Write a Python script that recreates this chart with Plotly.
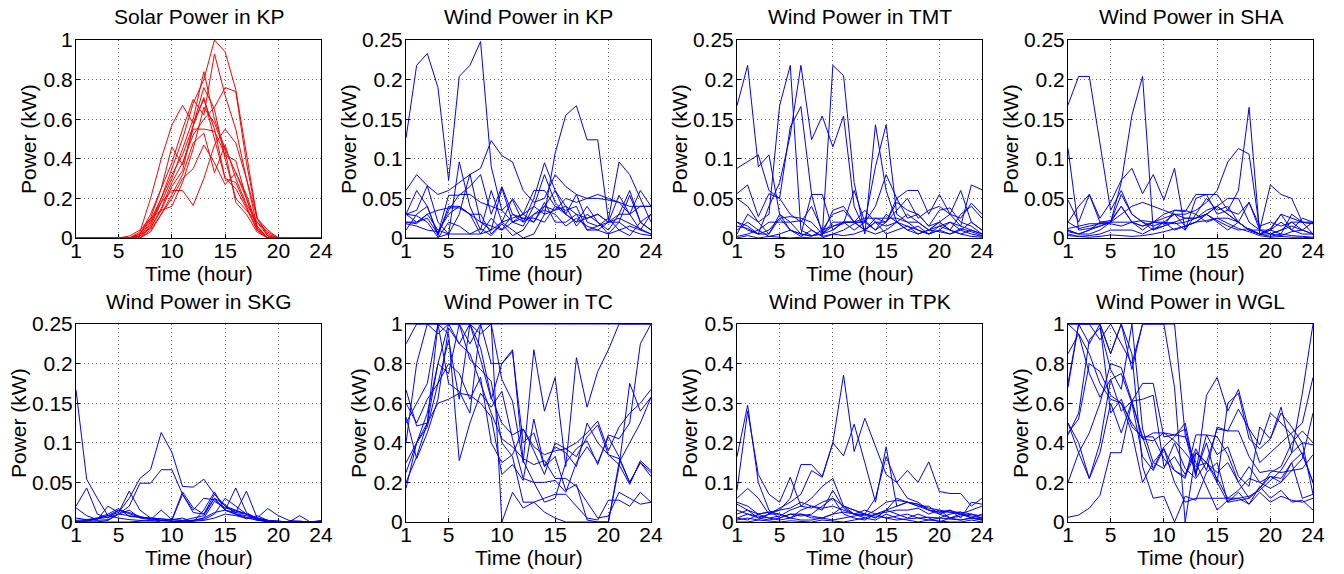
import plotly.graph_objects as go
from plotly.subplots import make_subplots

hours = list(range(1, 25))
x_tick_vals = [1, 5, 10, 15, 20, 24]
x_tick_text = ["1", "5", "10", "15", "20", "24"]

titles = ["Solar Power in KP", "Wind Power in KP", "Wind Power in TMT", "Wind Power in SHA",
          "Wind Power in SKG", "Wind Power in TC", "Wind Power in TPK", "Wind Power in WGL"]
x_title = "Time (hour)"
y_title = "Power (kW)"

ticks_unit = [0, 0.2, 0.4, 0.6, 0.8, 1]
ticks_unit_text = ["0", "0.2", "0.4", "0.6", "0.8", "1"]
ticks_small = [0, 0.05, 0.1, 0.15, 0.2, 0.25]
ticks_small_text = ["0", "0.05", "0.1", "0.15", "0.2", "0.25"]
ticks_half = [0, 0.1, 0.2, 0.3, 0.4, 0.5]
ticks_half_text = ["0", "0.1", "0.2", "0.3", "0.4", "0.5"]

solar_kp = [
    [0,0,0,0,0,0,0.01,0.07,0.2,0.35,0.5,0.68,0.8,1.0,0.94,0.75,0.42,0.1,0.01,0,0,0,0,0],
    [0,0,0,0,0,0,0.02,0.1,0.25,0.38,0.55,0.7,0.62,0.93,0.72,0.55,0.3,0.06,0,0,0,0,0,0],
    [0,0,0,0,0,0,0,0.06,0.18,0.3,0.45,0.6,0.84,0.6,0.45,0.33,0.2,0.05,0,0,0,0,0,0],
    [0,0,0,0,0,0,0.01,0.05,0.15,0.28,0.38,0.52,0.6,0.66,0.76,0.74,0.38,0.1,0.02,0,0,0,0,0],
    [0,0,0,0,0,0,0.03,0.2,0.4,0.57,0.67,0.58,0.7,0.55,0.3,0.28,0.16,0.04,0,0,0,0,0,0],
    [0,0,0,0,0,0,0.02,0.12,0.25,0.46,0.37,0.55,0.55,0.54,0.42,0.39,0.2,0.05,0,0,0,0,0,0],
    [0,0,0,0,0,0,0.01,0.08,0.18,0.24,0.24,0.165,0.3,0.47,0.55,0.48,0.3,0.1,0.04,0,0,0,0,0],
    [0,0,0,0,0,0,0,0.04,0.12,0.22,0.32,0.48,0.53,0.33,0.47,0.3,0.17,0.08,0.01,0,0,0,0,0],
    [0,0,0,0,0,0,0.02,0.09,0.2,0.32,0.42,0.56,0.71,0.5,0.3,0.25,0.15,0.04,0,0,0,0,0,0],
    [0,0,0,0,0,0,0,0.03,0.12,0.2,0.3,0.35,0.47,0.38,0.27,0.33,0.22,0.06,0,0,0,0,0,0],
    [0,0,0,0,0,0.01,0.04,0.1,0.14,0.16,0.28,0.45,0.66,0.58,0.44,0.18,0.12,0.03,0,0,0,0,0,0],
    [0,0,0,0,0,0,0.01,0.05,0.14,0.26,0.34,0.57,0.76,0.65,0.4,0.2,0.14,0.08,0.03,0,0,0,0,0],
]

wind_kp = [
    [0.126,0.218,0.233,0.19,0.073,0.204,0.218,0.248,0.09,0.035,0.02,0.03,0.04,0.03,0.107,0.155,0.167,0.124,0.124,0.023,0.096,0.08,0.05,0.02],
    [0.06,0.08,0.066,0.055,0.06,0.07,0.08,0.088,0.123,0.104,0.096,0.06,0.045,0.05,0.08,0.065,0.055,0.05,0.055,0.05,0.045,0.04,0.04,0.04],
    [0.03,0.06,0.04,0.005,0.054,0.054,0.065,0.08,0.03,0.065,0.03,0.02,0.05,0.095,0.06,0.03,0.02,0.025,0.03,0.02,0.054,0.03,0.06,0.04],
    [0.03,0.035,0.066,0.02,0.005,0.096,0.04,0.01,0.06,0.02,0.05,0.03,0.02,0.04,0.06,0.04,0.03,0.025,0.03,0.02,0.02,0.054,0.02,0.01],
    [0.02,0.02,0.03,0.01,0.005,0.03,0.081,0.02,0.01,0.063,0.02,0.015,0.04,0.08,0.045,0.03,0.02,0.04,0.02,0.01,0.03,0.06,0.02,0.03],
    [0.01,0.03,0.04,0.003,0.04,0.04,0.03,0.03,0.005,0.02,0.025,0.03,0.06,0.06,0.04,0.03,0.055,0.02,0.015,0.02,0.03,0.03,0.01,0.03],
    [0.03,0.02,0.025,0.005,0.035,0.055,0.055,0.045,0.04,0.035,0.048,0.02,0.03,0.04,0.035,0.05,0.045,0.05,0.05,0.048,0.045,0.03,0.04,0.04],
    [0.02,0.018,0.03,0.035,0.038,0.038,0.03,0.02,0.015,0.01,0.02,0.025,0.025,0.02,0.04,0.035,0.04,0.01,0.01,0.02,0.025,0.018,0.012,0.005],
    [0.0,0.0,0.0,0.0,0.02,0.015,0.005,0.005,0.01,0.02,0.01,0.0,0.005,0.03,0.035,0.04,0.015,0.03,0.02,0.005,0.02,0.01,0.005,0.003],
    [0.018,0.015,0.01,0.008,0.03,0.04,0.03,0.005,0.025,0.01,0.03,0.025,0.02,0.045,0.02,0.02,0.03,0.01,0.015,0.025,0.01,0.015,0.01,0.005],
    [0.03,0.028,0.02,0.001,0.005,0.005,0.005,0.012,0.003,0.018,0.003,0.01,0.03,0.035,0.03,0.015,0.025,0.015,0.01,0.005,0.01,0.003,0.02,0.01],
]

wind_tmt = [
    [0.167,0.218,0.09,0.105,0.03,0.01,0.005,0.002,0.01,0.015,0.02,0.01,0.02,0.01,0.03,0.02,0.015,0.01,0.005,0.01,0.02,0.015,0.01,0.005],
    [0.05,0.04,0.02,0.03,0.167,0.218,0.01,0.003,0.005,0.01,0.02,0.02,0.01,0.005,0.01,0.02,0.01,0.015,0.005,0.01,0.005,0.01,0.02,0.01],
    [0.02,0.01,0.005,0.04,0.07,0.13,0.218,0.124,0.154,0.115,0.154,0.04,0.01,0.02,0.015,0.02,0.03,0.02,0.01,0.015,0.01,0.005,0.01,0.005],
    [0.088,0.096,0.105,0.06,0.05,0.14,0.166,0.055,0.005,0.035,0.04,0.02,0.01,0.025,0.02,0.05,0.025,0.03,0.015,0.02,0.01,0.03,0.04,0.025],
    [0.01,0.02,0.01,0.02,0.02,0.02,0.022,0.01,0.002,0.218,0.205,0.07,0.005,0.143,0.06,0.02,0.01,0.005,0.01,0.02,0.01,0.005,0.002,0.001],
    [0.056,0.067,0.027,0.056,0.05,0.03,0.02,0.04,0.01,0.03,0.035,0.02,0.02,0.09,0.143,0.03,0.02,0.01,0.005,0.015,0.02,0.01,0.005,0.002],
    [0.015,0.012,0.005,0.01,0.025,0.027,0.025,0.02,0.005,0.015,0.018,0.06,0.02,0.04,0.08,0.05,0.06,0.06,0.03,0.055,0.03,0.015,0.067,0.061],
    [0.005,0.03,0.02,0.005,0.03,0.02,0.005,0.055,0.055,0.01,0.02,0.02,0.035,0.02,0.02,0.035,0.05,0.025,0.035,0.04,0.03,0.06,0.02,0.01],
    [0.002,0.005,0.01,0.002,0.005,0.01,0.005,0.003,0.005,0.02,0.02,0.02,0.025,0.025,0.025,0.025,0.02,0.02,0.01,0.02,0.03,0.025,0.044,0.03],
    [0.0,0.003,0.0,0.002,0.001,0.0,0.001,0.0,0.0,0.005,0.003,0.005,0.01,0.02,0.005,0.01,0.015,0.005,0.01,0.008,0.005,0.012,0.008,0.003],
    [0.02,0.015,0.005,0.005,0.025,0.01,0.002,0.01,0.002,0.005,0.01,0.018,0.022,0.01,0.02,0.045,0.035,0.03,0.015,0.035,0.038,0.02,0.015,0.005],
]

wind_sha = [
    [0.168,0.204,0.204,0.12,0.035,0.06,0.03,0.02,0.015,0.02,0.01,0.015,0.02,0.03,0.02,0.01,0.02,0.01,0.005,0.01,0.02,0.01,0.005,0.005],
    [0.01,0.005,0.01,0.015,0.02,0.07,0.155,0.204,0.01,0.02,0.03,0.015,0.02,0.03,0.04,0.03,0.02,0.01,0.01,0.005,0.01,0.02,0.01,0.02],
    [0.02,0.012,0.015,0.018,0.02,0.02,0.02,0.01,0.02,0.025,0.03,0.03,0.035,0.045,0.06,0.096,0.113,0.106,0.01,0.005,0.01,0.015,0.01,0.005],
    [0.008,0.005,0.01,0.02,0.022,0.04,0.02,0.015,0.02,0.018,0.02,0.01,0.05,0.055,0.03,0.035,0.06,0.165,0.005,0.01,0.005,0.03,0.02,0.005],
    [0.113,0.01,0.012,0.015,0.02,0.055,0.03,0.02,0.01,0.015,0.035,0.033,0.055,0.055,0.055,0.035,0.03,0.045,0.01,0.067,0.055,0.05,0.02,0.02],
    [0.048,0.02,0.055,0.025,0.045,0.073,0.088,0.056,0.08,0.048,0.088,0.01,0.03,0.05,0.035,0.04,0.02,0.01,0.005,0.012,0.03,0.025,0.02,0.018],
    [0.02,0.04,0.055,0.02,0.02,0.03,0.04,0.045,0.04,0.035,0.03,0.025,0.025,0.035,0.04,0.05,0.05,0.02,0.01,0.01,0.03,0.01,0.025,0.02],
    [0.01,0.005,0.005,0.01,0.02,0.04,0.02,0.015,0.02,0.03,0.035,0.035,0.03,0.02,0.025,0.025,0.02,0.01,0.005,0.005,0.003,0.008,0.01,0.005],
    [0.005,0.002,0.003,0.005,0.01,0.01,0.01,0.005,0.012,0.015,0.02,0.025,0.025,0.03,0.022,0.015,0.01,0.012,0.005,0.002,0.005,0.003,0.002,0.001],
    [0.003,0.002,0.001,0.002,0.004,0.003,0.002,0.003,0.005,0.008,0.012,0.015,0.02,0.022,0.025,0.018,0.012,0.008,0.003,0.001,0.002,0.001,0.001,0.0],
    [0.012,0.015,0.018,0.018,0.018,0.015,0.02,0.022,0.02,0.02,0.018,0.02,0.025,0.03,0.04,0.03,0.02,0.045,0.015,0.02,0.015,0.02,0.02,0.018],
]

wind_skg = [
    [0.167,0.054,0.03,0.008,0.005,0.003,0.002,0.001,0.002,0.001,0.0,0.001,0.002,0.005,0.01,0.008,0.005,0.003,0.002,0.001,0.0,0.001,0.0,0.001],
    [0.002,0.003,0.005,0.008,0.012,0.03,0.055,0.066,0.113,0.088,0.045,0.044,0.054,0.035,0.02,0.015,0.01,0.005,0.017,0.008,0.002,0.001,0.0,0.0],
    [0.0,0.002,0.004,0.006,0.01,0.02,0.049,0.049,0.066,0.066,0.035,0.015,0.03,0.028,0.015,0.01,0.008,0.004,0.002,0.0,0.0,0.0,0.0,0.002],
    [0.02,0.043,0.01,0.005,0.015,0.01,0.006,0.004,0.002,0.003,0.038,0.018,0.01,0.03,0.015,0.043,0.012,0.004,0.002,0.001,0.0,0.0,0.0,0.0],
    [0.018,0.008,0.003,0.02,0.012,0.039,0.015,0.005,0.004,0.002,0.035,0.012,0.01,0.035,0.02,0.012,0.039,0.005,0.002,0.0,0.0,0.0,0.0,0.0],
    [0.0,0.002,0.005,0.01,0.017,0.007,0.006,0.005,0.002,0.003,0.002,0.005,0.008,0.03,0.022,0.01,0.006,0.002,0.001,0.0,0.0,0.008,0.0,0.0],
    [0.0,0.0,0.0,0.002,0.01,0.015,0.005,0.003,0.015,0.003,0.005,0.0,0.015,0.038,0.015,0.012,0.01,0.005,0.002,0.0,0.0,0.0,0.0,0.0],
    [0.001,0.001,0.004,0.008,0.015,0.012,0.007,0.004,0.002,0.001,0.001,0.002,0.003,0.01,0.03,0.02,0.01,0.003,0.0,0.0,0.0,0.0,0.0,0.0],
    [0.0,0.0,0.0,0.0,0.0,0.0,0.001,0.002,0.0,0.0,0.001,0.002,0.005,0.012,0.015,0.009,0.004,0.008,0.002,0.001,0.0,0.0,0.0,0.0],
    [0.005,0.003,0.002,0.003,0.01,0.008,0.006,0.005,0.004,0.003,0.002,0.002,0.005,0.026,0.018,0.014,0.01,0.003,0.0,0.0,0.0,0.0,0.0,0.0],
]

wind_tc = [
    [0.667,0.485,0.5,0.8,1.0,1.0,1.0,0.95,1.0,0.0,0.15,0.07,0.1,0.12,0.14,0.14,0.08,0.02,0.01,0.11,0.11,0.08,0.15,0.1],
    [0.53,0.32,0.45,0.62,0.98,0.9,1.0,0.82,0.62,0.8,0.86,0.4,0.45,0.28,0.38,0.35,0.28,0.5,0.4,0.34,0.32,0.2,0.3,0.25],
    [0.17,0.4,0.48,0.7,0.92,0.62,1.0,0.88,0.63,0.5,0.44,0.47,0.38,0.34,0.36,0.37,0.4,0.45,0.51,0.36,0.48,0.55,0.6,0.67],
    [0.2,0.33,0.5,1.0,0.95,0.31,0.5,0.65,0.58,0.66,0.42,0.22,0.2,0.2,0.21,0.15,0.3,0.38,0.3,0.43,0.33,0.2,0.3,0.23],
    [0.3,0.4,0.5,0.6,0.62,0.65,0.64,0.6,0.53,0.24,0.29,0.21,0.52,0.28,0.33,0.16,0.19,0.01,0.0,0.0,0.28,0.7,0.56,0.63],
    [0.9,1.0,1.0,0.95,1.0,1.0,0.9,1.0,1.0,0.72,0.61,0.3,0.87,0.56,0.73,0.28,0.83,0.58,0.76,0.87,1.0,1.0,1.0,1.0],
    [0.5,0.6,0.7,1.0,0.7,0.66,0.55,1.0,0.8,0.8,0.87,0.31,0.2,0.1,0.12,0.3,0.37,0.41,0.29,0.44,0.42,0.5,0.9,1.0],
    [0.4,0.8,1.0,1.0,1.0,0.9,0.85,0.7,0.55,0.42,0.38,0.32,0.29,0.31,0.22,0.22,0.18,0.1,0.02,0.03,0.15,0.12,0.09,0.1],
    [0.6,0.5,0.62,0.7,0.8,0.75,0.62,0.73,0.4,0.3,0.34,0.47,0.36,0.24,0.4,0.37,0.33,0.43,0.49,0.34,0.29,0.19,0.31,0.26],
    [0.25,0.4,0.55,0.8,0.75,1.0,0.82,0.77,0.71,0.4,0.33,0.1,0.1,0.05,0.02,0.0,0.0,0.0,0.0,0.0,0.3,0.4,0.5,0.63],
    [1.0,1.0,1.0,1.0,1.0,1.0,1.0,1.0,1.0,1.0,1.0,1.0,1.0,1.0,1.0,1.0,1.0,1.0,1.0,1.0,1.0,1.0,1.0,1.0],
]

wind_tpk = [
    [0.165,0.295,0.1,0.03,0.01,0.02,0.02,0.01,0.01,0.02,0.04,0.03,0.02,0.01,0.03,0.02,0.01,0.02,0.01,0.0,0.01,0.005,0.01,0.005],
    [0.08,0.28,0.12,0.07,0.05,0.113,0.04,0.035,0.05,0.06,0.04,0.02,0.03,0.02,0.03,0.06,0.05,0.04,0.04,0.02,0.01,0.02,0.01,0.02],
    [0.06,0.085,0.06,0.02,0.03,0.06,0.145,0.145,0.115,0.2,0.371,0.178,0.262,0.19,0.12,0.1,0.06,0.05,0.03,0.025,0.03,0.02,0.03,0.04],
    [0.03,0.02,0.01,0.02,0.035,0.05,0.07,0.13,0.113,0.2,0.167,0.247,0.15,0.05,0.19,0.04,0.05,0.04,0.03,0.025,0.025,0.025,0.02,0.015],
    [0.05,0.04,0.02,0.01,0.015,0.03,0.04,0.06,0.09,0.11,0.04,0.03,0.02,0.06,0.165,0.1,0.13,0.1,0.152,0.077,0.072,0.072,0.04,0.06],
    [0.01,0.005,0.02,0.025,0.02,0.01,0.03,0.04,0.03,0.08,0.035,0.02,0.015,0.03,0.05,0.055,0.05,0.045,0.03,0.02,0.03,0.01,0.05,0.045],
    [0.045,0.03,0.01,0.005,0.01,0.02,0.015,0.02,0.04,0.06,0.02,0.01,0.005,0.02,0.025,0.03,0.03,0.035,0.02,0.03,0.01,0.015,0.02,0.01],
    [0.005,0.01,0.005,0.02,0.02,0.01,0.005,0.005,0.01,0.02,0.025,0.02,0.01,0.02,0.01,0.015,0.02,0.01,0.005,0.01,0.02,0.025,0.01,0.005],
    [0.0,0.0,0.005,0.002,0.0,0.003,0.002,0.0,0.005,0.003,0.0,0.005,0.01,0.005,0.02,0.01,0.005,0.0,0.005,0.002,0.0,0.0,0.005,0.0],
    [0.02,0.03,0.02,0.025,0.03,0.035,0.05,0.04,0.035,0.04,0.03,0.02,0.02,0.01,0.03,0.04,0.05,0.045,0.035,0.03,0.025,0.02,0.015,0.01],
    [0.01,0.02,0.015,0.01,0.005,0.01,0.02,0.015,0.01,0.005,0.01,0.015,0.02,0.015,0.01,0.005,0.008,0.01,0.012,0.01,0.008,0.005,0.01,0.008],
]

wind_wgl = [
    [0.024,0.035,0.07,0.135,0.35,0.35,0.61,0.7,0.7,0.43,0.44,0.43,0.3,0.18,0.06,0.11,0.12,0.09,0.18,0.12,0.16,0.1,0.11,0.06],
    [0.2,0.35,0.22,0.35,0.6,0.45,0.61,0.62,0.64,0.28,0.33,0.24,0.37,0.26,0.48,0.46,0.46,0.33,0.25,0.26,0.25,0.26,0.27,0.34],
    [0.45,0.52,0.8,0.76,0.64,0.6,0.5,0.42,0.45,0.45,0.41,0.35,0.28,0.3,0.2,0.1,0.11,0.12,0.17,0.23,0.2,0.26,0.32,0.55],
    [0.5,0.4,0.22,0.4,0.72,0.56,0.61,0.43,0.27,0.38,0.43,0.5,0.24,0.44,0.43,0.34,0.2,0.12,0.17,0.25,0.28,0.4,0.46,0.4],
    [0.68,1.0,0.9,1.0,0.85,1.0,0.77,1.0,1.0,1.0,0.68,0.0,0.35,0.3,0.22,0.12,0.12,0.13,0.16,0.21,0.26,0.35,0.65,1.0],
    [1.0,1.0,1.0,0.92,1.0,0.9,0.8,1.0,1.0,1.0,1.0,0.44,0.23,0.64,0.73,0.56,0.67,0.46,0.3,0.35,0.4,0.45,0.5,0.73],
    [0.44,0.55,0.92,0.98,0.77,0.67,1.0,0.47,0.3,0.27,0.4,0.27,0.22,0.3,0.25,0.3,0.2,0.28,0.2,0.17,0.2,0.3,0.35,0.2],
    [0.7,1.0,1.0,1.0,0.85,1.0,0.85,0.28,0.12,0.13,0.0,0.13,0.11,0.25,0.3,0.1,0.15,0.09,0.15,0.1,0.13,0.11,0.1,0.12],
    [1.0,0.95,0.85,0.7,0.62,0.6,0.45,0.2,0.3,0.37,0.2,0.1,0.12,0.12,0.12,0.12,0.16,0.22,0.2,0.23,0.22,0.3,0.12,0.14],
    [1.0,1.0,1.0,1.0,0.55,0.62,0.48,0.43,0.43,0.32,0.26,0.23,0.35,0.3,0.47,0.46,0.57,0.47,0.39,0.55,0.5,0.44,0.34,0.2],
    [0.85,0.95,0.75,0.63,0.72,0.75,0.6,0.33,0.26,0.37,0.26,0.22,0.44,0.44,0.34,0.38,0.23,0.18,0.48,0.42,0.58,0.35,0.4,0.39],
    [0.5,0.35,0.45,0.6,0.8,0.78,0.61,0.42,0.41,0.45,0.44,0.47,0.25,0.4,0.2,0.6,0.65,0.42,0.37,0.42,0.55,0.48,0.4,0.14],
]

panels = [
    (solar_kp, "#ff0000", 1.0, ticks_unit, ticks_unit_text),
    (wind_kp, "#0000ff", 0.25, ticks_small, ticks_small_text),
    (wind_tmt, "#0000ff", 0.25, ticks_small, ticks_small_text),
    (wind_sha, "#0000ff", 0.25, ticks_small, ticks_small_text),
    (wind_skg, "#0000ff", 0.25, ticks_small, ticks_small_text),
    (wind_tc, "#0000ff", 1.0, ticks_unit, ticks_unit_text),
    (wind_tpk, "#0000ff", 0.5, ticks_half, ticks_half_text),
    (wind_wgl, "#0000ff", 1.0, ticks_unit, ticks_unit_text),
]

W, H = 1344, 574
col_px = [(76, 321), (406, 651), (737, 982), (1068, 1313)]
row_px = [(40, 238), (324, 522)]

FONT = "Liberation Sans, Arial, sans-serif"
fig = make_subplots(rows=2, cols=4)


def px_x(v):
    return v / W


def px_y(v):
    return 1 - v / H


annotations = []
for i, (series, color, ymax, yt, ytt) in enumerate(panels):
    r, c = divmod(i, 4)
    for s in series:
        fig.add_trace(go.Scatter(x=hours, y=s, mode="lines",
                                 line=dict(color=color, width=1), showlegend=False,
                                 hoverinfo="skip"), row=r + 1, col=c + 1)
    x0, x1 = col_px[c]
    t0, b0 = row_px[r]
    n = i + 1
    axs = "" if n == 1 else str(n)
    common = dict(showline=True, mirror=True, linecolor="black", linewidth=1,
                  showgrid=True, gridcolor="rgba(0,0,0,0.6)", griddash="1px,3px", gridwidth=1,
                  ticks="inside", ticklen=4, tickcolor="black", zeroline=False,
                  automargin=False,
                  tickfont=dict(family=FONT, size=21, color="black"), layer="below traces")
    fig.layout["xaxis" + axs].update(domain=[px_x(x0), px_x(x1)], range=[1, 24],
                                     tickvals=x_tick_vals, ticktext=x_tick_text,
                                     ticklabelstandoff=-6, **common)
    fig.layout["yaxis" + axs].update(domain=[px_y(b0), px_y(t0)], range=[0, ymax],
                                     tickvals=yt, ticktext=ytt,
                                     ticklabelstandoff=-2, **common)
    tf = dict(family=FONT, size=21, color="black")
    widest = max(len(t) for t in ytt)
    ylab_gap = 58 if widest >= 4 else 48
    annotations.append(dict(text=titles[i], x=px_x((x0 + x1) / 2), y=px_y(t0 - 23),
                            xref="paper", yref="paper", xanchor="center", yanchor="middle",
                            showarrow=False, font=tf))
    annotations.append(dict(text=x_title, x=px_x((x0 + x1) / 2), y=px_y(b0 + 35),
                            xref="paper", yref="paper", xanchor="center", yanchor="middle",
                            showarrow=False, font=tf))
    annotations.append(dict(text=y_title, x=px_x(x0 - ylab_gap), y=px_y((t0 + b0) / 2),
                            xref="paper", yref="paper", xanchor="center", yanchor="middle",
                            textangle=-90, showarrow=False, font=tf))

fig.update_layout(width=W, height=H, margin=dict(l=0, r=0, t=0, b=0),
                  paper_bgcolor="white", plot_bgcolor="white",
                  annotations=annotations, showlegend=False)
fig.write_html("out.html", config={"displayModeBar": False},
               post_script="document.body.style.margin='0px';")
